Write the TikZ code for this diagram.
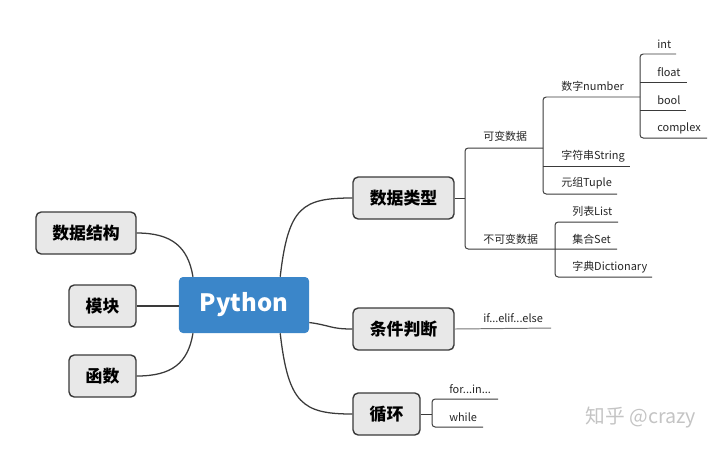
\documentclass[tikz,border=0pt]{standalone}
\usepackage{fontspec}
\setmainfont{Noto Sans CJK SC}
\usetikzlibrary{calc}
\definecolor{pyblue}{HTML}{3B86C9}
\definecolor{boxgray}{HTML}{E8E8E8}
\definecolor{linegray}{HTML}{3A3A3A}
\definecolor{markgray}{HTML}{C4C4C4}

\begin{document}
\begin{tikzpicture}[x=0.025cm, y=-0.025cm,
		topic/.style={shape=rectangle, draw=linegray, line width=1pt, fill=boxgray, rounded corners=0.13cm, minimum height=1.05cm, font=\fontsize{12}{14}\selectfont\bfseries},
		leaf/.style={anchor=west, inner sep=0pt, font=\fontsize{7.8}{9}\selectfont, text=black!85},
		branch/.style={draw=linegray, line width=0.9pt},
		tree/.style={draw=linegray, line width=0.7pt, rounded corners=0.08cm}]
			\useasboundingbox (0,0) rectangle (720,450);
			% central topic and main branches
			\node[shape=rectangle, fill=pyblue, rounded corners=0.1cm, minimum width=3.25cm, minimum height=1.4cm, text=white, font=\fontsize{17}{20}\selectfont\bfseries](N1) at (244,305){Python};
			\node[topic, minimum width=2.525cm](N2) at (403.5,198){数据类型};
			\node[topic, minimum width=2.525cm](N3) at (403.5,329){条件判断};
			\node[topic, minimum width=1.675cm](N4) at (386.5,414){循环};
			\node[topic, minimum width=2.5cm](N5) at (86,233){数据结构};
			\node[topic, minimum width=1.675cm](N6) at (102.5,306){模块};
			\node[topic, minimum width=1.675cm](N7) at (102.5,376){函数};
			\draw[branch] (N1.38) .. controls +(8,-70) and +(-50,0) .. (N2.west);
			\draw[branch] (N1.-15) .. controls +(22,3) and +(-22,0) .. (N3.west);
			\draw[branch] (N1.-38) .. controls +(8,70) and +(-50,0) .. (N4.west);
			\draw[branch] (N5.east) .. controls +(35,0) and +(-5,-30) .. (N1.151);
			\draw[branch] (N6.east) -- (N1.west |- N6.east);
			\draw[branch] (N7.east) .. controls +(35,0) and +(-5,30) .. (N1.-151);
			% data types
			\coordinate (C1) at (465,198);
			\coordinate (C2) at (543,148);
			\coordinate (C3) at (555,249);
			\coordinate (C4) at (640,97);
			\draw[tree] (N2.east) -- (C1);
			\draw[tree] (C2) -- (C1 |- C2) -- (C1 |- C3) -- (617,249);
			\node[leaf](L1) at (483,136){可变数据};
			\node[leaf](L2) at (483,239){不可变数据};
			\draw[tree] (C4) -- (C2 |- C4) -- (543,194) -- (617,194);
			\draw[tree] (543,166) -- (630,166);
			\node[leaf](L3) at (561,86){数字number};
			\node[leaf](L4) at (561,156){字符串String};
			\node[leaf](L5) at (561,183){元组Tuple};
			\draw[tree] (676,54) -- (C4 |- 0,54) -- (C4 |- 0,138) -- (707,138);
			\draw[tree] (640,82) -- (687,82);
			\draw[tree] (640,110) -- (686,110);
			\node[leaf](L6) at (657,44){int};
			\node[leaf](L7) at (657,72){float};
			\node[leaf](L8) at (657,100){bool};
			\node[leaf](L9) at (657,128){complex};
			\draw[tree] (618,222) -- (C3 |- 0,222) -- (C3 |- 0,277) -- (652,277);
			\node[leaf](L10) at (572,211){列表List};
			\node[leaf](L11) at (572,239){集合Set};
			\node[leaf](L12) at (572,267){字典Dictionary};
			% conditions and loops
			\coordinate (C5) at (551,328);
			\draw[tree, draw=linegray!70] (N3.east) -- (C5);
			\node[leaf](L13) at (483,318){if...elif...else};
			\coordinate (C6) at (432,414);
			\draw[tree] (N4.east) -- (C6);
			\draw[tree] (498,399) -- (C6 |- 0,399) -- (C6 |- 0,427) -- (483,427);
			\node[leaf](L14) at (449,389){for...in...};
			\node[leaf](L15) at (449,417){while};
			\node[text=markgray, font=\fontsize{14}{16}\selectfont](W) at (641,418){知乎 @crazy};
		\end{tikzpicture}
\end{document}
